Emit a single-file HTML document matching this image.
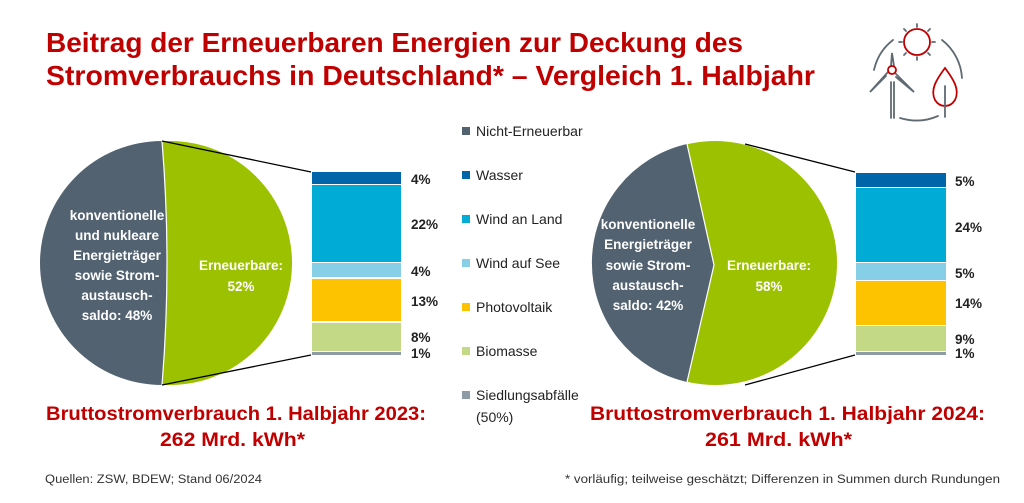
<!DOCTYPE html>
<html><head><meta charset="utf-8"><style>
html,body{margin:0;padding:0;background:#fff;}
svg{display:block;font-family:"Liberation Sans",sans-serif;}
</style></head><body>
<svg width="1024" height="503" viewBox="0 0 1024 503" xmlns="http://www.w3.org/2000/svg">
<g fill="#c00000" font-weight="bold" font-size="28">
<text x="46" y="52" textLength="697" lengthAdjust="spacingAndGlyphs">Beitrag der Erneuerbaren Energien zur Deckung des</text>
<text x="46" y="85" textLength="769" lengthAdjust="spacingAndGlyphs">Stromverbrauchs in Deutschland* – Vergleich 1. Halbjahr</text>
</g>
<!-- icon -->
<g fill="none" stroke-width="1.8" stroke-linecap="round">
<path d="M874,70 A52,52 0 0 1 893,40" stroke="#5f6a72"/>
<path d="M942,40 A52,52 0 0 1 962,78" stroke="#5f6a72"/>
<path d="M900,118 Q920,124 938,116" stroke="#5f6a72"/>
<circle cx="917" cy="42" r="13" stroke="#c00000"/>
<g stroke="#5f6a72">
<line x1="917" y1="24" x2="917" y2="27"/><line x1="917" y1="57" x2="917" y2="60"/>
<line x1="899" y1="42" x2="902" y2="42"/><line x1="932" y1="42" x2="935" y2="42"/>
<line x1="904" y1="29" x2="906" y2="31"/><line x1="928" y1="53" x2="930" y2="55"/>
<line x1="930" y1="29" x2="928" y2="31"/><line x1="904" y1="55" x2="906" y2="53"/>
<line x1="891" y1="82" x2="891" y2="118"/><line x1="894" y1="82" x2="894" y2="118"/>
<path d="M891,66 L892,53 L894,66"/>
<path d="M888,72 L870,92 L886,76"/>
<path d="M896,74 L914,92 L896,77"/>
</g>
<circle cx="892" cy="70" r="4" stroke="#c00000"/>
<path d="M945,68 C936,80 930,90 935,100 C940,108 950,108 955,100 C960,90 954,80 945,68 Z" stroke="#c00000"/>
<line x1="945" y1="86" x2="945" y2="117" stroke="#5f6a72"/>
</g>
<!-- left pie -->
<circle cx="170" cy="263" r="122" fill="#9bc100"/>
<path d="M162,141 A122,122 0 0 0 162,385 Q172,263 162,141 Z" fill="#526270"/>
<path d="M162,141 Q172,263 162,385" fill="none" stroke="#fff" stroke-width="1.2"/>
<line x1="162" y1="141" x2="311" y2="172" stroke="#000" stroke-width="1.3"/>
<line x1="162" y1="385" x2="311" y2="355" stroke="#000" stroke-width="1.3"/>
<rect x="312" y="172" width="89" height="12" fill="#0066aa"/>
<rect x="312" y="185" width="89" height="77" fill="#00acd5"/>
<rect x="312" y="263" width="89" height="14" fill="#86cfe6"/>
<rect x="312" y="279" width="89" height="42" fill="#fdc300"/>
<rect x="312" y="323" width="89" height="28" fill="#c3d986"/>
<rect x="312" y="352" width="89" height="3" fill="#8e9ba6"/>
<g font-size="13.5" font-weight="bold" fill="#222">
<text x="411" y="184">4%</text><text x="411" y="229">22%</text><text x="411" y="276">4%</text>
<text x="411" y="306">13%</text><text x="411" y="342">8%</text><text x="411" y="358">1%</text>
</g>
<g font-size="13.5" font-weight="bold" fill="#fff" text-anchor="middle">
<text x="117" y="220">konventionelle</text><text x="117" y="240">und nukleare</text>
<text x="117" y="260">Energieträger</text><text x="117" y="280">sowie Strom-</text>
<text x="117" y="300">austausch-</text><text x="117" y="320">saldo: 48%</text>
<text x="241" y="270">Erneuerbare:</text><text x="241" y="291">52%</text>
</g>
<!-- right pie -->
<circle cx="715" cy="263" r="122" fill="#9bc100"/>
<path d="M687,144 A122,122 0 0 0 687,382 L714,265 Z" fill="#526270"/>
<path d="M687,144 L714,265 L687,382" fill="none" stroke="#fff" stroke-width="1.2"/>
<line x1="745" y1="144" x2="855" y2="172" stroke="#000" stroke-width="1.3"/>
<line x1="745" y1="385" x2="855" y2="355" stroke="#000" stroke-width="1.3"/>
<rect x="856" y="173" width="90" height="14" fill="#0066aa"/>
<rect x="856" y="188" width="90" height="74" fill="#00acd5"/>
<rect x="856" y="263" width="90" height="17" fill="#86cfe6"/>
<rect x="856" y="281" width="90" height="44" fill="#fdc300"/>
<rect x="856" y="326" width="90" height="25" fill="#c3d986"/>
<rect x="856" y="352" width="90" height="3" fill="#8e9ba6"/>
<g font-size="13.5" font-weight="bold" fill="#222">
<text x="955" y="186">5%</text><text x="955" y="232">24%</text><text x="955" y="278">5%</text>
<text x="955" y="308">14%</text><text x="955" y="344">9%</text><text x="955" y="358">1%</text>
</g>
<g font-size="13.5" font-weight="bold" fill="#fff" text-anchor="middle">
<text x="648" y="229">konventionelle</text><text x="648" y="249">Energieträger</text>
<text x="648" y="270">sowie Strom-</text><text x="648" y="290">austausch-</text>
<text x="648" y="310">saldo: 42%</text>
<text x="769" y="270">Erneuerbare:</text><text x="769" y="291">58%</text>
</g>
<!-- legend -->
<g font-size="14" fill="#222">
<rect x="462" y="127" width="8" height="8" fill="#526270"/><text x="476" y="136">Nicht-Erneuerbar</text>
<rect x="462" y="171" width="8" height="8" fill="#0066aa"/><text x="476" y="180">Wasser</text>
<rect x="462" y="215" width="8" height="8" fill="#00acd5"/><text x="476" y="224">Wind an Land</text>
<rect x="462" y="259" width="8" height="8" fill="#86cfe6"/><text x="476" y="268">Wind auf See</text>
<rect x="462" y="303" width="8" height="8" fill="#fdc300"/><text x="476" y="312">Photovoltaik</text>
<rect x="462" y="347" width="8" height="8" fill="#c3d986"/><text x="476" y="356">Biomasse</text>
<rect x="462" y="391" width="8" height="8" fill="#8e9ba6"/><text x="476" y="400">Siedlungsabfälle</text>
<text x="476" y="422">(50%)</text>
</g>
<!-- subtitles -->
<g fill="#c00000" font-weight="bold" font-size="19">
<text x="46" y="420" textLength="380" lengthAdjust="spacingAndGlyphs">Bruttostromverbrauch 1. Halbjahr 2023:</text>
<text x="160" y="446" textLength="145" lengthAdjust="spacingAndGlyphs">262 Mrd. kWh*</text>
<text x="590" y="420" textLength="395" lengthAdjust="spacingAndGlyphs">Bruttostromverbrauch 1. Halbjahr 2024:</text>
<text x="705" y="446" textLength="147" lengthAdjust="spacingAndGlyphs">261 Mrd. kWh*</text>
</g>
<g font-size="11.5" fill="#333">
<text x="45" y="483" textLength="217" lengthAdjust="spacingAndGlyphs">Quellen: ZSW, BDEW; Stand 06/2024</text>
<text x="565" y="483" textLength="435" lengthAdjust="spacingAndGlyphs">* vorläufig; teilweise geschätzt; Differenzen in Summen durch Rundungen</text>
</g>
</svg>
</body></html>
